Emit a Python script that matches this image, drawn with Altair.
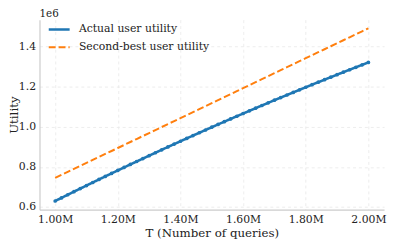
import altair as alt
import pandas as pd

T_values = [1000000 + 20000 * k for k in range(51)]
actual_utility = [
    0.63000, 0.64556, 0.66106, 0.67648, 0.69182, 0.70710, 0.72230, 0.73744, 0.75250, 0.76748,
    0.78240, 0.79724, 0.81202, 0.82672, 0.84134, 0.85590, 0.87038, 0.88480, 0.89914, 0.91340,
    0.92760, 0.94172, 0.95578, 0.96976, 0.98366, 0.99750, 1.01126, 1.02496, 1.03858, 1.05212,
    1.06560, 1.07900, 1.09234, 1.10560, 1.11878, 1.13190, 1.14494, 1.15792, 1.17082, 1.18364,
    1.19640, 1.20908, 1.22170, 1.23424, 1.24670, 1.25910, 1.27142, 1.28368, 1.29586, 1.30796,
    1.32000,
]
second_best_utility = [
    0.7450, 0.7599, 0.7748, 0.7897, 0.8046, 0.8195, 0.8344, 0.8493, 0.8642, 0.8791,
    0.8940, 0.9089, 0.9238, 0.9387, 0.9536, 0.9685, 0.9834, 0.9983, 1.0132, 1.0281,
    1.0430, 1.0579, 1.0728, 1.0877, 1.1026, 1.1175, 1.1324, 1.1473, 1.1622, 1.1771,
    1.1920, 1.2069, 1.2218, 1.2367, 1.2516, 1.2665, 1.2814, 1.2963, 1.3112, 1.3261,
    1.3410, 1.3559, 1.3708, 1.3857, 1.4006, 1.4155, 1.4304, 1.4453, 1.4602, 1.4751,
    1.4900,
]
series_names = ["Actual user utility", "Second-best user utility"]
series_colors = ["#1f77b4", "#ff7f0e"]
x_ticks = [1000000, 1200000, 1400000, 1600000, 1800000, 2000000]
y_ticks = [600000, 800000, 1000000, 1200000, 1400000]

rows = []
for t, a in zip(T_values, actual_utility):
    rows.append({"T": t, "U": a * 1e6, "series": series_names[0]})
for t, b in zip(T_values, second_best_utility):
    rows.append({"T": t, "U": b * 1e6, "series": series_names[1]})
df = pd.DataFrame(rows)

FONT = "DejaVu Serif"
PLOT_H = 193

x_enc = alt.X(
    "T:Q",
    scale=alt.Scale(domain=[950000, 2050000], nice=False, zero=False),
    axis=alt.Axis(
        values=x_ticks,
        labelExpr="format(datum.value/1000000, '.2f') + 'M'",
        title="T (Number of queries)",
    ),
)
y_enc = alt.Y(
    "U:Q",
    scale=alt.Scale(domain=[587000, 1533000], nice=False, zero=False),
    axis=alt.Axis(
        values=y_ticks,
        labelExpr="format(datum.value/1000000, '.1f')",
        title="Utility",
        titleX=-26,
        titleY=PLOT_H / 2,
        titleAngle=270,
        titleAlign="center",
        titleBaseline="middle",
    ),
)

color_enc = alt.Color(
    "series:N",
    scale=alt.Scale(domain=series_names, range=series_colors),
    legend=alt.Legend(
        title=None,
        orient="none",
        legendX=8,
        legendY=-2,
        symbolType="stroke",
        symbolSize=450,
        symbolStrokeWidth=2,
        labelFont=FONT,
        labelFontSize=11,
        labelColor="#222",
        labelOffset=8,
        rowPadding=0,
    ),
)
dash_enc = alt.StrokeDash(
    "series:N",
    scale=alt.Scale(domain=series_names, range=[[1, 0], [7, 3]]),
    legend=None,
)
width_enc = alt.StrokeWidth(
    "series:N",
    scale=alt.Scale(domain=series_names, range=[2.6, 2]),
    legend=None,
)

lines = alt.Chart(df).mark_line(clip=True).encode(
    x=x_enc, y=y_enc, color=color_enc, strokeDash=dash_enc, strokeWidth=width_enc
)
points = alt.Chart(df).transform_filter(
    alt.datum.series == series_names[0]
).mark_circle(size=14, opacity=1, color="#1f77b4").encode(x="T:Q", y="U:Q")

offset_label = alt.Chart(pd.DataFrame({"t": ["1e6"]})).mark_text(
    font=FONT, fontSize=10.5, align="left", baseline="bottom", color="#222"
).encode(text="t:N", x=alt.value(0), y=alt.value(-1))

chart = alt.layer(lines, points, offset_label).properties(
    width=350,
    height=PLOT_H,
    padding={"left": 32, "top": 10, "right": 4, "bottom": 30},
    autosize=alt.AutoSizeParams(type="none"),
).configure_view(stroke=None).configure_axis(
    labelFont=FONT,
    titleFont=FONT,
    labelFontSize=11,
    titleFontSize=12,
    titleFontWeight="normal",
    labelColor="#222",
    titleColor="#222",
    domainColor="#cccccc",
    domainWidth=1.2,
    tickSize=0,
    grid=True,
    gridColor="#e8e8e8",
    gridDash=[3, 3],
    gridWidth=0.8,
    labelPadding=4,
).configure_axisX(titlePadding=3)

chart.save("out.html", embed_options={"renderer": "svg", "actions": False})
